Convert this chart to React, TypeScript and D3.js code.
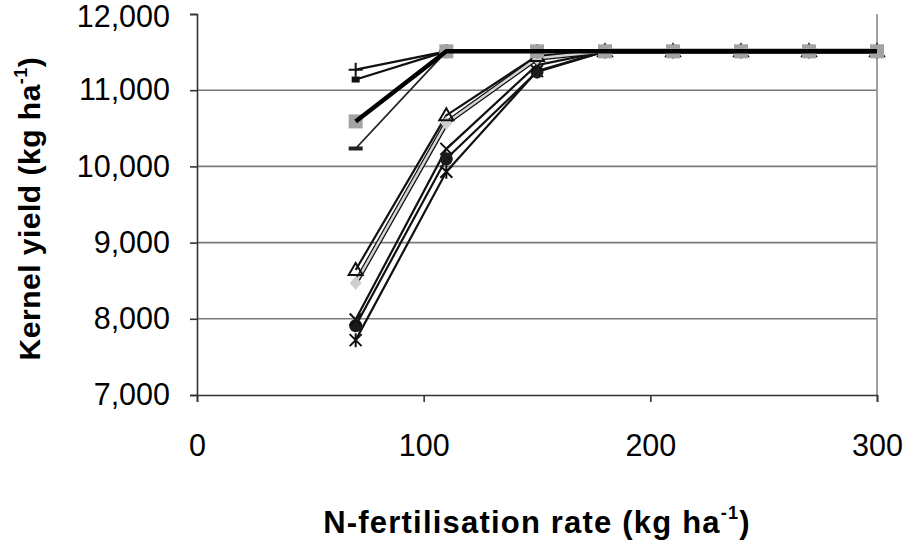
import React, { useEffect, useRef } from 'react';
import * as d3 from 'd3';

// N rates (kg/ha) and kernel yield per treatment (kg/ha)
const nRates = [70, 110, 150, 180, 210, 240, 270, 300];
const plusSeries = [11270, 11510, 11510, 11510, 11510, 11510, 11510, 11510];
const smallSquareSeries = [11140, 11510, 11510, 11510, 11510, 11510, 11510, 11510];
const dashSeries = [10235, 11510, 11510, 11510, 11510, 11510, 11510, 11510];
const triangleSeries = [8640, 10670, 11450, 11510, 11510, 11510, 11510, 11510];
const diamondSeries = [8470, 10570, 11420, 11510, 11510, 11510, 11510, 11510];
const crossSeries = [7990, 10230, 11330, 11510, 11510, 11510, 11510, 11510];
const circleSeries = [7910, 10100, 11240, 11510, 11510, 11510, 11510, 11510];
const starSeries = [7720, 9930, 11250, 11510, 11510, 11510, 11510, 11510];
const greySquareSeries = [10590, 11510, 11510, 11510, 11510, 11510, 11510, 11510];

const yTicks = [7000, 8000, 9000, 10000, 11000, 12000];
const xTicks = [0, 100, 200, 300];

const App = () => {
  const svgRef = useRef<SVGSVGElement>(null);

  useEffect(() => {
    const svg = d3.select(svgRef.current);
    svg.selectAll('*').remove();
    const width = 909;
    const height = 548;
    const margin = { top: 14, right: 32, bottom: 153, left: 197 };

    const x = d3.scaleLinear().domain([0, 300]).range([margin.left, width - margin.right]);
    const y = d3.scaleLinear().domain([7000, 12000]).range([height - margin.bottom, margin.top]);
    const font = 'Liberation Sans, Arial, Helvetica, sans-serif';

    // gridlines
    svg.append('g')
      .selectAll('line')
      .data(yTicks.filter(d => d > 7000 && d < 12000))
      .join('line')
        .attr('x1', x(0)).attr('x2', x(300))
        .attr('y1', d => y(d)).attr('y2', d => y(d))
        .attr('stroke', '#7a7a7a').attr('stroke-width', 1.6);

    // right border
    svg.append('line')
      .attr('x1', x(300)).attr('x2', x(300))
      .attr('y1', y(12000)).attr('y2', y(7000))
      .attr('stroke', '#8a8a8a').attr('stroke-width', 1.6);

    // axes
    const yAxis = svg.append('g')
      .attr('transform', `translate(${x(0)},0)`)
      .call(d3.axisLeft(y).tickValues(yTicks).tickSize(7).tickPadding(20).tickFormat(d3.format(',')));
    const xAxis = svg.append('g')
      .attr('transform', `translate(0,${y(7000)})`)
      .call(d3.axisBottom(x).tickValues(xTicks).tickSize(7).tickPadding(32).tickFormat(d3.format('d')));
    [yAxis, xAxis].forEach(a => {
      a.select('.domain').attr('stroke', '#333').attr('stroke-width', 1.6);
      a.selectAll('.tick line').attr('stroke', '#333').attr('stroke-width', 1.6);
      a.selectAll('.tick text').attr('font-family', font).attr('font-size', 30.5).attr('fill', '#000');
    });
    // keep the top label inside the page
    yAxis.selectAll<SVGTextElement, number>('.tick text')
      .filter(d => d === 12000)
      .attr('dy', '0.4em');

    const line = d3.line<number>().x((_, i) => x(nRates[i])).y(d => y(d));
    const g = svg.append('g');

    const drawLine = (vals: number[], stroke: string, w: number) =>
      g.append('path').datum(vals).attr('d', line).attr('fill', 'none')
        .attr('stroke', stroke).attr('stroke-width', w).attr('stroke-linejoin', 'round');

    const pts = (vals: number[]) => vals.map((v, i) => [x(nRates[i]), y(v)] as [number, number]);

    // lower bundle (cased look)
    drawLine(starSeries, '#111', 2.2);
    drawLine(circleSeries, '#111', 2.2);
    drawLine(crossSeries, '#111', 2.2);
    drawLine(triangleSeries, '#111', 2.2);
    drawLine(diamondSeries, '#111', 5);
    drawLine(diamondSeries, '#d4d4d4', 2.5);
    drawLine(dashSeries, '#222', 1.8);
    drawLine(smallSquareSeries, '#111', 2.2);
    drawLine(plusSeries, '#111', 2.2);

    // markers
    const mk = g.append('g');
    pts(starSeries).forEach(([px, py]) => {
      mk.append('path').attr('d', `M${px - 6},${py - 6}L${px + 6},${py + 6}M${px + 6},${py - 6}L${px - 6},${py + 6}M${px},${py - 7}L${px},${py + 7}`)
        .attr('stroke', '#111').attr('stroke-width', 2);
    });
    pts(circleSeries).forEach(([px, py]) => {
      mk.append('circle').attr('cx', px).attr('cy', py).attr('r', 6.5).attr('fill', '#1a1a1a');
    });
    pts(crossSeries).forEach(([px, py]) => {
      mk.append('path').attr('d', `M${px - 6},${py - 6}L${px + 6},${py + 6}M${px + 6},${py - 6}L${px - 6},${py + 6}`)
        .attr('stroke', '#111').attr('stroke-width', 2);
    });
    pts(diamondSeries).forEach(([px, py]) => {
      mk.append('path').attr('d', `M${px},${py - 7}L${px + 6},${py}L${px},${py + 7}L${px - 6},${py}Z`).attr('fill', '#cfcfcf');
    });
    pts(triangleSeries).forEach(([px, py]) => {
      mk.append('path').attr('d', `M${px},${py - 7}L${px + 7},${py + 5}L${px - 7},${py + 5}Z`)
        .attr('fill', 'none').attr('stroke', '#111').attr('stroke-width', 2);
    });
    pts(dashSeries).forEach(([px, py]) => {
      mk.append('rect').attr('x', px - 7).attr('y', py - 2).attr('width', 14).attr('height', 4).attr('fill', '#222');
    });
    pts(smallSquareSeries).forEach(([px, py]) => {
      mk.append('rect').attr('x', px - 4).attr('y', py - 3).attr('width', 8).attr('height', 6).attr('fill', '#111');
    });
    pts(plusSeries).forEach(([px, py]) => {
      mk.append('path').attr('d', `M${px - 7},${py}L${px + 7},${py}M${px},${py - 7}L${px},${py + 7}`)
        .attr('stroke', '#111').attr('stroke-width', 2);
    });

    // main thick series on top
    drawLine(greySquareSeries, '#000', 4.5);
    pts(greySquareSeries).forEach(([px, py]) => {
      mk.append('rect').attr('x', px - 7).attr('y', py - 7).attr('width', 14).attr('height', 14)
        .attr('fill', '#a3a3a3');
    });

    // axis titles
    const yt = svg.append('text')
      .attr('transform', `translate(40,${(y(7000) + y(12000)) / 2 + 4}) rotate(-90)`)
      .attr('text-anchor', 'middle').attr('font-family', font).attr('font-weight', 'bold')
      .attr('font-size', 30).attr('letter-spacing', 0.5).attr('fill', '#000');
    yt.append('tspan').text('Kernel yield (kg ha');
    yt.append('tspan').attr('font-size', 18).attr('dy', -13).text('-1');
    yt.append('tspan').attr('dy', 13).text(')');

    const xt = svg.append('text')
      .attr('x', (x(0) + x(300)) / 2).attr('y', 533)
      .attr('text-anchor', 'middle').attr('font-family', font).attr('font-weight', 'bold')
      .attr('font-size', 31).attr('letter-spacing', 1.2).attr('fill', '#000');
    xt.append('tspan').text('N-fertilisation rate (kg ha');
    xt.append('tspan').attr('font-size', 18).attr('dy', -14).text('-1');
    xt.append('tspan').attr('dy', 14).text(')');
  }, []);

  return (
    <svg ref={svgRef} width={909} height={548}
      style={{ position: 'absolute', left: 0, top: 0, background: '#fff' }} />
  );
};

export default App;
